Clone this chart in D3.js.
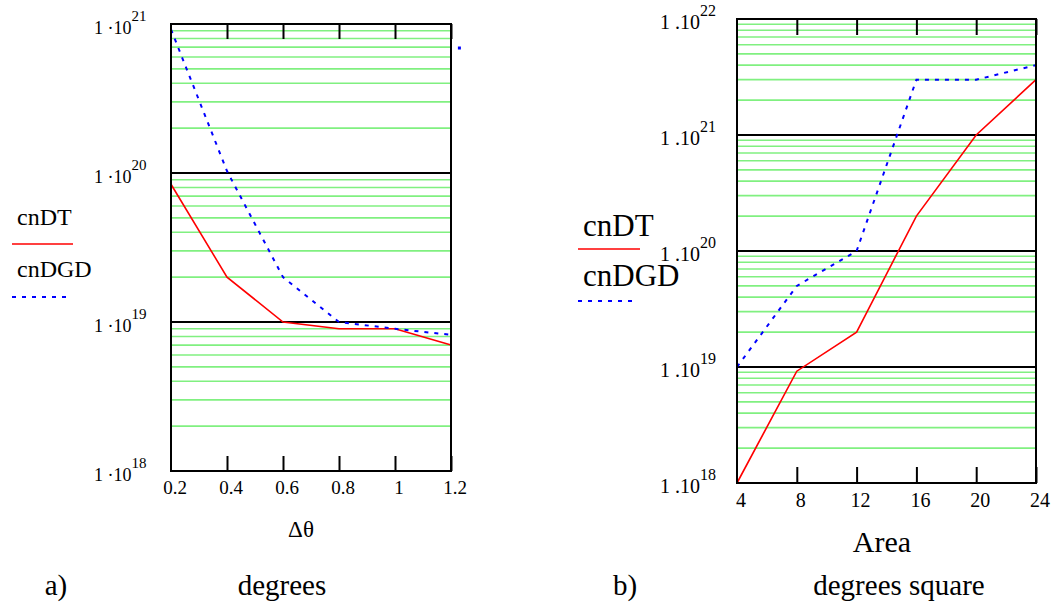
<!DOCTYPE html>
<html>
<head>
<meta charset="utf-8">
<script src="https://cdn.jsdelivr.net/npm/d3@7"></script>
<style>
  body { margin: 0; background: #fff; }
</style>
</head>
<body>
<div id="chart"></div>
<script>
// panel a) : delta theta, degrees
const aX = [0.2, 0.4, 0.6, 0.8, 1.0, 1.2];
const aDT = [8.4e19, 2e19, 1e19, 9e18, 9e18, 7e18];
const aDGD = [9.2e20, 1.03e20, 2e19, 1e19, 9e18, 8.2e18];
const aTicks = [0.2, 0.4, 0.6, 0.8, 1, 1.2];
const aTickLabels = ["0.2", "0.4", "0.6", "0.8", "1", "1.2"];
const aExps = [18, 19, 20, 21];

// panel b) : area, degrees square
const bX = [4, 8, 12, 16, 20, 24];
const bDT = [1e18, 9.2e18, 2e19, 2e20, 1e21, 3e21];
const bDGD = [1e19, 5e19, 1e20, 3e21, 3e21, 4e21];
const bTicks = [4, 8, 12, 16, 20, 24];
const bTickLabels = ["4", "8", "12", "16", "20", "24"];
const bExps = [18, 19, 20, 21, 22];

const seriesNames = ["cnDT", "cnDGD"];

const FONT = "'Liberation Serif', 'Times New Roman', Times, 'DejaVu Serif', serif";

const svg = d3.select("#chart")
    .append("svg")
    .attr("width", 1057)
    .attr("height", 606)
    .attr("font-family", FONT)
    .style("font-family", FONT);

function drawPanel(o) {
    const x = d3.scaleLinear().domain([o.ticks[0], o.ticks[o.ticks.length - 1]]).range(o.xRange);
    const y = d3.scaleLog()
        .domain([Math.pow(10, o.exps[0]), Math.pow(10, o.exps[o.exps.length - 1])])
        .range(o.yRange);
    const g = svg.append("g");
    const [x0, x1] = o.xRange;

    /* green minor grid */
    const minor = [];
    o.exps.slice(0, -1).forEach(function(e) {
        for (let k = 2; k <= 9; k++) minor.push(k * Math.pow(10, e));
    });
    g.selectAll(".minor").data(minor).join("line")
        .attr("x1", x0).attr("x2", x1)
        .attr("y1", d => y(d)).attr("y2", d => y(d))
        .attr("stroke", "#80f080").attr("stroke-width", 1.6);

    /* black decade lines */
    g.selectAll(".major").data(o.exps.slice(1, -1)).join("line")
        .attr("x1", x0).attr("x2", x1)
        .attr("y1", d => y(Math.pow(10, d))).attr("y2", d => y(Math.pow(10, d)))
        .attr("stroke", "#000").attr("stroke-width", 2);

    /* series */
    const line = d3.line().x((d, i) => x(o.xs[i])).y(d => y(d));
    g.append("path").datum(o.dt).attr("d", line)
        .attr("fill", "none").attr("stroke", "#ff0000").attr("stroke-width", 1.6);
    g.append("path").datum(o.dgd).attr("d", line)
        .attr("fill", "none").attr("stroke", "#0000ff").attr("stroke-width", 2)
        .attr("stroke-dasharray", "4,6");

    /* frame */
    g.append("rect")
        .attr("x", x0).attr("y", o.yRange[1])
        .attr("width", x1 - x0).attr("height", o.yRange[0] - o.yRange[1])
        .attr("fill", "none").attr("stroke", "#000").attr("stroke-width", 2);

    /* ticks, top and bottom */
    const inner = o.ticks.slice(1);
    g.append("g").attr("transform", `translate(0,${o.yRange[0]})`)
        .call(d3.axisBottom(x).tickValues(inner).tickSize(-o.tickLen).tickFormat(""))
        .call(s => s.select(".domain").remove())
        .selectAll("line").attr("stroke", "#000").attr("stroke-width", 2);
    g.append("g").attr("transform", `translate(0,${o.yRange[1]})`)
        .call(d3.axisTop(x).tickValues(inner).tickSize(-o.tickLen).tickFormat(""))
        .call(s => s.select(".domain").remove())
        .selectAll("line").attr("stroke", "#000").attr("stroke-width", 2);

    /* x tick labels */
    g.selectAll(".xlab").data(o.ticks).join("text")
        .attr("x", d => x(d) + 4)
        .attr("y", o.xLabY)
        .attr("text-anchor", "middle")
        .attr("font-size", o.xLabSize)
        .text((d, i) => o.tickLabels[i]);

    /* y tick labels: 1·10^n */
    const yl = g.selectAll(".ylab").data(o.exps).join("text")
        .attr("x", o.yLabX)
        .attr("y", d => y(Math.pow(10, d)) + 9.5)
        .attr("font-size", o.yLabSize);
    yl.append("tspan").text(o.mant);
    yl.append("tspan").attr("dy", -12.5).attr("font-size", o.supSize).text(d => d);

    /* axis titles */
    g.append("text").attr("x", o.titleX).attr("y", o.titleY)
        .attr("text-anchor", "middle").attr("font-size", o.titleSize).text(o.title);
    g.append("text").attr("x", o.unitX).attr("y", 595)
        .attr("text-anchor", "middle").attr("font-size", 29).text(o.unit);
    g.append("text").attr("x", o.tagX).attr("y", 595)
        .attr("text-anchor", "middle").attr("font-size", 29).text(o.tag);

    /* legend */
    const L = o.legend;
    g.append("text").attr("x", L.x + 5).attr("y", L.y1).attr("font-size", L.size).text(seriesNames[0]);
    g.append("line").attr("x1", L.x).attr("x2", L.x + L.w1).attr("y1", L.l1).attr("y2", L.l1)
        .attr("stroke", "#ff0000").attr("stroke-width", 1.6);
    g.append("text").attr("x", L.x + 5).attr("y", L.y2).attr("font-size", L.size).text(seriesNames[1]);
    g.append("line").attr("x1", L.x).attr("x2", L.x + L.w2).attr("y1", L.l2).attr("y2", L.l2)
        .attr("stroke", "#0000ff").attr("stroke-width", 2).attr("stroke-dasharray", "4,6");

    return {x: x, y: y, g: g};
}

const pa = drawPanel({
    xs: aX, dt: aDT, dgd: aDGD, ticks: aTicks, tickLabels: aTickLabels, exps: aExps,
    xRange: [171, 451], yRange: [471, 24], tickLen: 15,
    xLabY: 494, xLabSize: 19, yLabX: 94, yLabSize: 18, supSize: 15, mant: "1 \u00B710",
    title: "\u0394\u03B8", titleX: 301, titleY: 537, titleSize: 23,
    unit: "degrees", unitX: 282, tag: "a)", tagX: 56,
    legend: {x: 12, size: 24, y1: 225, l1: 244, w1: 61, y2: 277, l2: 297, w2: 54}
});

// stray blue dot to the right of panel a
pa.g.append("rect").attr("x", pa.x(1.23) - 1.5).attr("y", pa.y(6.9e20) - 1.5)
    .attr("width", 3).attr("height", 3).attr("fill", "#0000ff");

drawPanel({
    xs: bX, dt: bDT, dgd: bDGD, ticks: bTicks, tickLabels: bTickLabels, exps: bExps,
    xRange: [737, 1036], yRange: [483, 19], tickLen: 16,
    xLabY: 507, xLabSize: 20, yLabX: 660, yLabSize: 20, supSize: 16, mant: "1 .10",
    title: "Area", titleX: 882, titleY: 552, titleSize: 30,
    unit: "degrees square", unitX: 899, tag: "b)", tagX: 625,
    legend: {x: 578, size: 31, y1: 236, l1: 249, w1: 62, y2: 286, l2: 301, w2: 54}
});
</script>
</body>
</html>
